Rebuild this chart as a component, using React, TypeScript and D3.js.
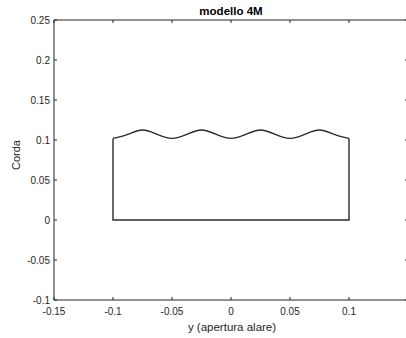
import React from "react";
import * as d3 from "d3";

const title = "modello 4M";
const xLabel = "y (apertura alare)";
const yLabel = "Corda";
const xTicks = [-0.15, -0.1, -0.05, 0, 0.05, 0.1];
const yTicks = [-0.1, -0.05, 0, 0.05, 0.1, 0.15, 0.2, 0.25];
// top edge (leading edge wave)
const topY = [-0.1, -0.0875, -0.075, -0.0625, -0.05, -0.0375, -0.025, -0.0125, 0, 0.0125, 0.025, 0.0375, 0.05, 0.0625, 0.075, 0.0875, 0.1];
const topC = [0.102, 0.107, 0.1125, 0.107, 0.102, 0.107, 0.1125, 0.107, 0.102, 0.107, 0.1125, 0.107, 0.102, 0.107, 0.1125, 0.107, 0.102];
const baseY = [0.1, -0.1];
const baseC = [0, 0];

export default function App() {
  const left = 54, right = 408, top = 20, bottom = 300;
  const x = d3.scaleLinear().domain([-0.15, 0.15]).range([left, right]);
  const y = d3.scaleLinear().domain([-0.1, 0.25]).range([bottom, top]);
  const axisColor = "#262626";
  const font = "'Liberation Sans', Arial, sans-serif";

  const topPts: [number, number][] = topY.map((v, i) => [v, topC[i]]);
  const topPath = d3.line<[number, number]>().x(d => x(d[0])).y(d => y(d[1])).curve(d3.curveNatural)(topPts) || "";
  const closePts: [number, number][] = [[topY[topY.length - 1], topC[topC.length - 1]], [baseY[0], baseC[0]], [baseY[1], baseC[1]], [topY[0], topC[0]]];
  const closePath = d3.line<[number, number]>().x(d => x(d[0])).y(d => y(d[1]))(closePts) || "";
  const tl = 3;

  return (
    <svg width={406} height={338} style={{ position: "absolute", left: 0, top: 0, background: "#fff" }}>
      <rect x={0} y={0} width={406} height={338} fill="#fff" />
      <path d={topPath + closePath} fill="none" stroke="#2b2b2b" strokeWidth={1.4} />
      {/* box */}
      <line x1={left} x2={right} y1={top} y2={top} stroke={axisColor} strokeWidth={1} />
      <line x1={left} x2={right} y1={bottom} y2={bottom} stroke={axisColor} strokeWidth={1} />
      <line x1={left} x2={left} y1={top} y2={bottom} stroke={axisColor} strokeWidth={1} />
      <line x1={right} x2={right} y1={top} y2={bottom} stroke={axisColor} strokeWidth={1} />
      {xTicks.map(t => (
        <g key={"x" + t}>
          <line x1={x(t)} x2={x(t)} y1={bottom} y2={bottom - tl} stroke={axisColor} />
          <line x1={x(t)} x2={x(t)} y1={top} y2={top + tl} stroke={axisColor} />
          <text x={x(t)} y={bottom + 15} textAnchor="middle" fontSize={10} fontFamily={font} fill={axisColor}>{String(t)}</text>
        </g>
      ))}
      {yTicks.map(t => (
        <g key={"y" + t}>
          <line x1={left} x2={left + tl} y1={y(t)} y2={y(t)} stroke={axisColor} />
          <line x1={right} x2={right - tl} y1={y(t)} y2={y(t)} stroke={axisColor} />
          <text x={left - 4} y={y(t) + 3.5} textAnchor="end" fontSize={10} fontFamily={font} fill={axisColor}>{String(t)}</text>
        </g>
      ))}
      <text x={231} y={15} textAnchor="middle" fontSize={11.5} fontWeight="bold" fontFamily={font} fill="#000">{title}</text>
      <text x={232} y={331} textAnchor="middle" fontSize={11.5} fontFamily={font} fill={axisColor}>{xLabel}</text>
      <text transform="translate(20,155) rotate(-90)" textAnchor="middle" fontSize={11} fontFamily={font} fill={axisColor}>{yLabel}</text>
    </svg>
  );
}
